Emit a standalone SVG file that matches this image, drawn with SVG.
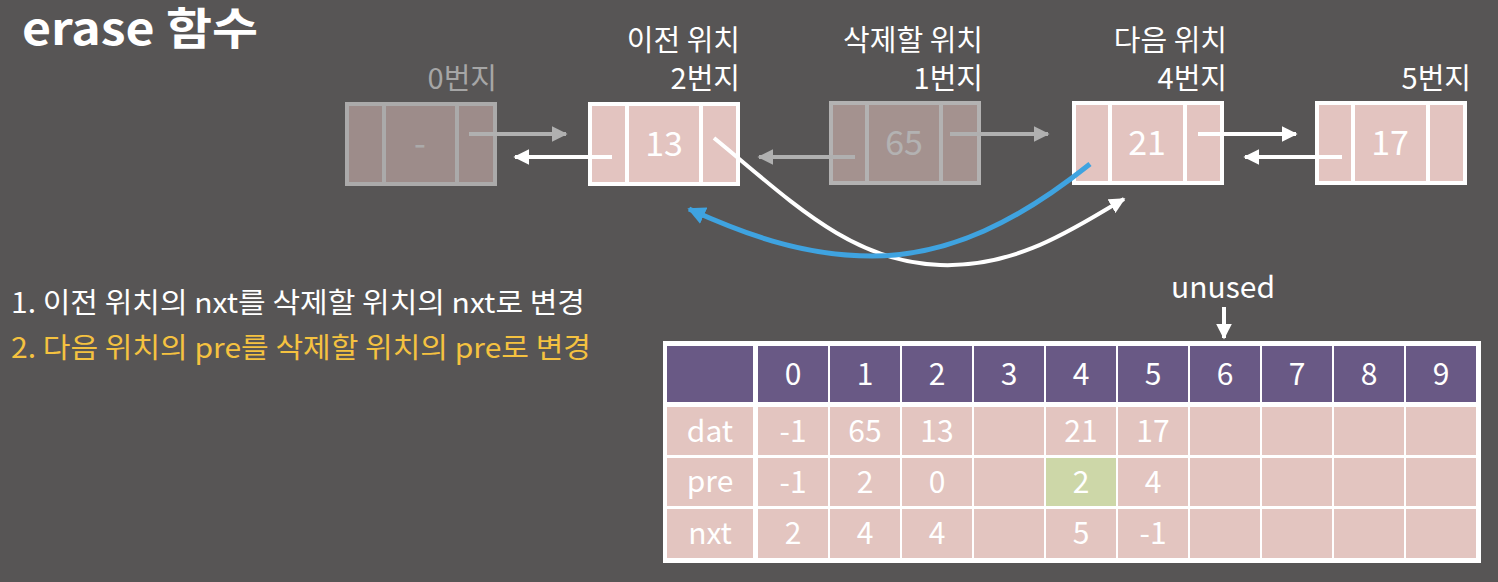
<svg xmlns="http://www.w3.org/2000/svg" width="1498" height="582" viewBox="0 0 1498 582">
<defs>
<style>
text{font-family:"Noto Sans CJK KR","Noto Sans",sans-serif;fill:#fff}
.lbl{font-size:29px;text-anchor:end}
.nv{font-size:34px;text-anchor:middle}
.cell{fill:#e3c5c0}
.hd{fill:#695985}
.tv{font-size:30px;text-anchor:middle}
.nodebox{fill:#e3c4c0;stroke:#fff;stroke-width:4}
.div{stroke:#fff;stroke-width:4}
.ln{stroke:#fff;stroke-width:4;fill:none}
.lnf{stroke:#b0b0b0;stroke-width:4;fill:none}
</style>
<marker id="aw" viewBox="0 0 10 10" refX="9" refY="5" markerWidth="16" markerHeight="16" markerUnits="userSpaceOnUse" orient="auto"><path d="M0,0 L10,5 L0,10 z" fill="#fff"/></marker>
<marker id="ag" viewBox="0 0 10 10" refX="9" refY="5" markerWidth="16" markerHeight="16" markerUnits="userSpaceOnUse" orient="auto"><path d="M0,0 L10,5 L0,10 z" fill="#b0b0b0"/></marker>
<marker id="ab" viewBox="0 0 10 10" refX="9" refY="5" markerWidth="18" markerHeight="18" markerUnits="userSpaceOnUse" orient="auto"><path d="M0,0 L10,5 L0,10 z" fill="#3fa3e0"/></marker>
</defs>
<rect width="1498" height="582" fill="#575555"/>
<text x="22" y="45" font-size="44" font-weight="bold" textLength="236" lengthAdjust="spacingAndGlyphs">erase 함수</text>

<g id="node0" opacity="0.5">
<rect class="nodebox" x="347" y="104" width="148" height="80"/>
<line class="div" x1="384" y1="104" x2="384" y2="184"/>
<line class="div" x1="457" y1="104" x2="457" y2="184"/>
<text class="nv" x="420" y="156">-</text>
</g>
<text class="lbl" x="497" y="89" style="fill:#a6a6a6">0번지</text>

<g id="node2">
<rect class="nodebox" x="590" y="104" width="148" height="80"/>
<line class="div" x1="627" y1="104" x2="627" y2="184"/>
<line class="div" x1="701" y1="104" x2="701" y2="184"/>
<text class="nv" x="664" y="156">13</text>
</g>
<text class="lbl" x="740" y="51">이전 위치</text>
<text class="lbl" x="740" y="89">2번지</text>

<g id="node1" opacity="0.55">
<rect class="nodebox" x="831" y="103" width="148" height="80"/>
<line class="div" x1="867" y1="103" x2="867" y2="183"/>
<line class="div" x1="941" y1="103" x2="941" y2="183"/>
<text class="nv" x="904" y="155">65</text>
</g>
<text class="lbl" x="983" y="51">삭제할 위치</text>
<text class="lbl" x="983" y="89">1번지</text>

<g id="node4">
<rect class="nodebox" x="1074" y="103" width="148" height="80"/>
<line class="div" x1="1110" y1="103" x2="1110" y2="183"/>
<line class="div" x1="1185" y1="103" x2="1185" y2="183"/>
<text class="nv" x="1147" y="155">21</text>
</g>
<text class="lbl" x="1227" y="51">다음 위치</text>
<text class="lbl" x="1227" y="89">4번지</text>

<g id="node5">
<rect class="nodebox" x="1317" y="103" width="148" height="80"/>
<line class="div" x1="1353" y1="103" x2="1353" y2="183"/>
<line class="div" x1="1428" y1="103" x2="1428" y2="183"/>
<text class="nv" x="1390" y="155">17</text>
</g>
<text class="lbl" x="1471" y="89">5번지</text>

<g id="connectors">
<line class="lnf" x1="469" y1="134" x2="566" y2="134" marker-end="url(#ag)"/>
<line class="ln" x1="612" y1="157" x2="515" y2="157" marker-end="url(#aw)"/>
<line class="lnf" x1="855" y1="157" x2="759" y2="157" marker-end="url(#ag)"/>
<line class="lnf" x1="950" y1="134" x2="1048" y2="134" marker-end="url(#ag)"/>
<line class="ln" x1="1198" y1="134" x2="1296" y2="134" marker-end="url(#aw)"/>
<line class="ln" x1="1342" y1="157" x2="1245" y2="157" marker-end="url(#aw)"/>
<path class="ln" d="M714 138 C790 200 850 262 940 265 C1020 268 1080 224 1124 199" marker-end="url(#aw)"/>
<path d="M1090 164 C1020 220 950 256 872 256 C800 256 740 232 689 209" stroke="#3fa3e0" stroke-width="5" fill="none" marker-end="url(#ab)"/>
<line class="ln" x1="1224" y1="307" x2="1224" y2="338" stroke-width="3" marker-end="url(#aw)"/>
</g>

<text x="11" y="313" font-size="28" textLength="574" lengthAdjust="spacingAndGlyphs">1. 이전 위치의 nxt를 삭제할 위치의 nxt로 변경</text>
<text x="11" y="358" font-size="28" textLength="580" lengthAdjust="spacingAndGlyphs" style="fill:#f5c240">2. 다음 위치의 pre를 삭제할 위치의 pre로 변경</text>
<text x="1223" y="298" font-size="30" text-anchor="middle">unused</text>

<g id="table">
<rect x="663" y="341" width="818" height="222" fill="#fff"/>
<rect class="hd" x="667" y="346" width="86" height="56"/>
<rect class="hd" x="758" y="346" width="70" height="56"/>
<rect class="hd" x="830" y="346" width="70" height="56"/>
<rect class="hd" x="902" y="346" width="70" height="56"/>
<rect class="hd" x="974" y="346" width="70" height="56"/>
<rect class="hd" x="1046" y="346" width="70" height="56"/>
<rect class="hd" x="1118" y="346" width="70" height="56"/>
<rect class="hd" x="1190" y="346" width="70" height="56"/>
<rect class="hd" x="1262" y="346" width="70" height="56"/>
<rect class="hd" x="1334" y="346" width="70" height="56"/>
<rect class="hd" x="1406" y="346" width="70" height="56"/>
<g class="cell">
<rect x="667" y="407" width="86" height="48"/><rect x="667" y="458" width="86" height="48"/><rect x="667" y="509" width="86" height="49"/>
<rect x="758" y="407" width="70" height="48"/><rect x="758" y="458" width="70" height="48"/><rect x="758" y="509" width="70" height="49"/>
<rect x="830" y="407" width="70" height="48"/><rect x="830" y="458" width="70" height="48"/><rect x="830" y="509" width="70" height="49"/>
<rect x="902" y="407" width="70" height="48"/><rect x="902" y="458" width="70" height="48"/><rect x="902" y="509" width="70" height="49"/>
<rect x="974" y="407" width="70" height="48"/><rect x="974" y="458" width="70" height="48"/><rect x="974" y="509" width="70" height="49"/>
<rect x="1046" y="407" width="70" height="48"/><rect x="1046" y="458" width="70" height="48" fill="#cdd7a8"/><rect x="1046" y="509" width="70" height="49"/>
<rect x="1118" y="407" width="70" height="48"/><rect x="1118" y="458" width="70" height="48"/><rect x="1118" y="509" width="70" height="49"/>
<rect x="1190" y="407" width="70" height="48"/><rect x="1190" y="458" width="70" height="48"/><rect x="1190" y="509" width="70" height="49"/>
<rect x="1262" y="407" width="70" height="48"/><rect x="1262" y="458" width="70" height="48"/><rect x="1262" y="509" width="70" height="49"/>
<rect x="1334" y="407" width="70" height="48"/><rect x="1334" y="458" width="70" height="48"/><rect x="1334" y="509" width="70" height="49"/>
<rect x="1406" y="407" width="70" height="48"/><rect x="1406" y="458" width="70" height="48"/><rect x="1406" y="509" width="70" height="49"/>
</g>
<text class="tv" x="793" y="385">0</text><text class="tv" x="865" y="385">1</text><text class="tv" x="937" y="385">2</text><text class="tv" x="1009" y="385">3</text><text class="tv" x="1081" y="385">4</text><text class="tv" x="1153" y="385">5</text><text class="tv" x="1225" y="385">6</text><text class="tv" x="1297" y="385">7</text><text class="tv" x="1369" y="385">8</text><text class="tv" x="1441" y="385">9</text>
<text class="tv" x="710" y="442">dat</text><text class="tv" x="793" y="442">-1</text><text class="tv" x="865" y="442">65</text><text class="tv" x="937" y="442">13</text><text class="tv" x="1081" y="442">21</text><text class="tv" x="1153" y="442">17</text>
<text class="tv" x="710" y="492">pre</text><text class="tv" x="793" y="493">-1</text><text class="tv" x="865" y="493">2</text><text class="tv" x="937" y="493">0</text><text class="tv" x="1081" y="493">2</text><text class="tv" x="1153" y="493">4</text>
<text class="tv" x="710" y="544">nxt</text><text class="tv" x="793" y="544">2</text><text class="tv" x="865" y="544">4</text><text class="tv" x="937" y="544">4</text><text class="tv" x="1081" y="544">5</text><text class="tv" x="1153" y="544">-1</text>
</g>
</svg>
